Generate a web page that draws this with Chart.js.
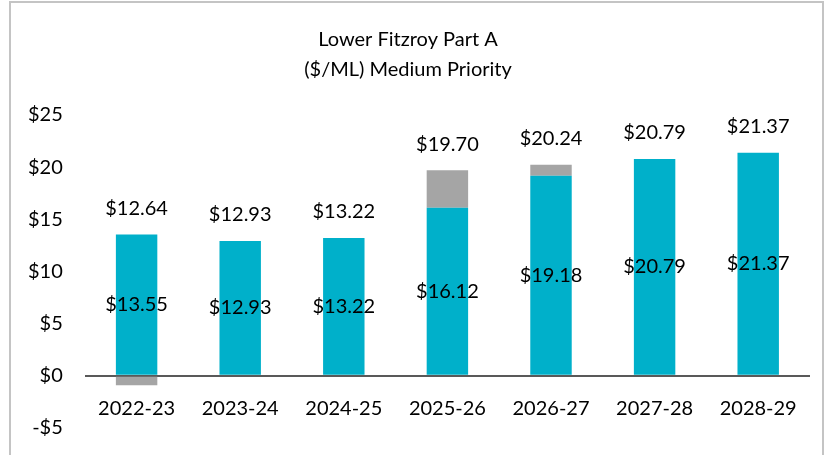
<!DOCTYPE html>
<html>
<head>
<meta charset="utf-8">
<script src="https://cdn.jsdelivr.net/npm/chart.js@4"></script>
<style>
  html, body { margin: 0; padding: 0; background: #fff; }
  #wrap { position: relative; width: 828px; height: 455px; }
  #frame { position: absolute; left: 9px; top: 1px; width: 815px; height: 470px; border: 2px solid #c4c4c4; box-sizing: border-box; }
</style>
</head>
<body>
<div id="wrap">
  <div id="frame"></div>
  <canvas id="chart" width="828" height="455"></canvas>
</div>
<script>
// values
const years = ['2022-23', '2023-24', '2024-25', '2025-26', '2026-27', '2027-28', '2028-29'];
const baseValues = [13.55, 12.93, 13.22, 16.12, 19.18, 20.79, 21.37];
const adjustValues = [-0.91, 0, 0, 3.58, 1.06, 0, 0];
const totalValues = [12.64, 12.93, 13.22, 19.70, 20.24, 20.79, 21.37];
const yTicks = [-5, 0, 5, 10, 15, 20, 25];

const money = v => (v < 0 ? '-$' : '$') + Math.abs(v);
const FONT = 'Lato, "Open Sans", sans-serif';

// draws the base value in the middle of the teal bar and the total above the stack
const valueLabels = {
  id: 'valueLabels',
  afterDatasetsDraw(chart) {
    const ctx = chart.ctx;
    const base = chart.getDatasetMeta(0).data;
    const adj = chart.getDatasetMeta(1).data;
    ctx.save();
    ctx.fillStyle = '#000';
    ctx.font = '20px ' + FONT;
    ctx.textAlign = 'center';
    ctx.textBaseline = 'middle';
    base.forEach((bar, i) => {
      const mid = (bar.y + bar.base) / 2;
      ctx.fillText('$' + baseValues[i].toFixed(2), bar.x, mid);
      const top = Math.min(bar.y, adj[i].y, adj[i].base);
      ctx.fillText('$' + totalValues[i].toFixed(2), bar.x, top - 26);
    });
    ctx.restore();
  }
};

new Chart(document.getElementById('chart'), {
  type: 'bar',
  data: {
    labels: years,
    datasets: [
      {
        label: 'Base',
        data: baseValues,
        backgroundColor: '#00b0ca',
        barPercentage: 0.4,
        categoryPercentage: 1
      },
      {
        label: 'Adjustment',
        data: adjustValues,
        backgroundColor: '#a5a5a5',
        barPercentage: 0.4,
        categoryPercentage: 1
      }
    ]
  },
  options: {
    responsive: false,
    animation: false,
    layout: {
      padding: { left: 6, right: 18, top: 0, bottom: 27 }
    },
    plugins: {
      legend: { display: false },
      tooltip: { enabled: false },
      title: {
        display: true,
        text: ['Lower Fitzroy Part A', '($/ML) Medium Priority'],
        color: '#000',
        font: { family: FONT, size: 20, weight: 'normal', lineHeight: 1.5 },
        padding: { top: 25, bottom: 30 }
      }
    },
    scales: {
      x: {
        stacked: true,
        position: { y: 0 },
        grid: { display: false },
        border: { display: false },
        ticks: { color: '#000', font: { family: FONT, size: 20 }, padding: 13 }
      },
      y: {
        stacked: true,
        min: -5,
        max: 25,
        afterBuildTicks: axis => { axis.ticks = yTicks.map(v => ({ value: v })); },
        // tick padding also pads the bottom of the axis; only keep half a label there
        afterFit: axis => { axis.paddingBottom = 12; },
        border: { display: false },
        grid: {
          drawTicks: false,
          color: c => (c.tick && c.tick.value === 0 ? '#595959' : 'rgba(0,0,0,0)'),
          lineWidth: 2
        },
        ticks: {
          color: '#000',
          font: { family: FONT, size: 20 },
          padding: 22,
          callback: v => money(v)
        }
      }
    }
  },
  plugins: [valueLabels]
});
</script>
</body>
</html>
